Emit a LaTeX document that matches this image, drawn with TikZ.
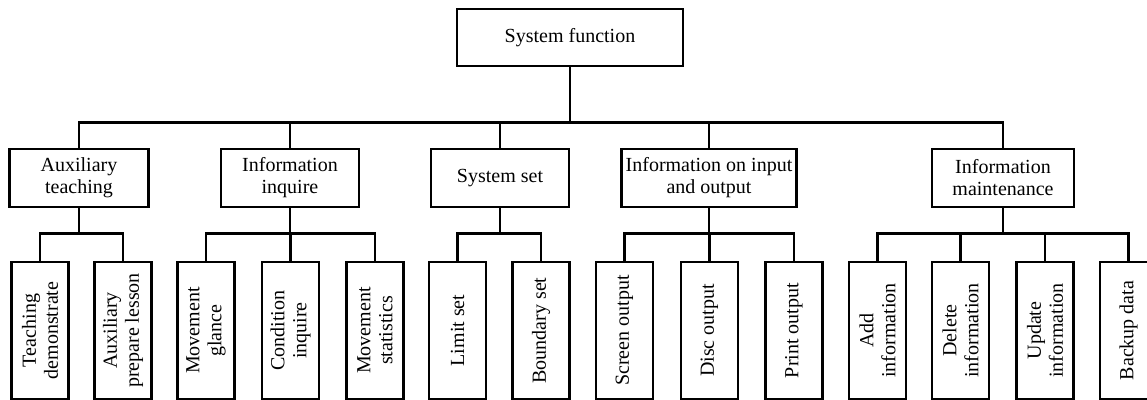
\documentclass[tikz,border=0pt]{standalone}
\usepackage{fontspec}
\setmainfont{Liberation Serif}

\begin{document}
\begin{tikzpicture}
  [x=0.5pt,y=-0.5pt,line width=1.3pt,
   every node/.style={draw,rectangle,inner sep=2pt,align=center,font=\fontsize{10}{11}\selectfont},
   topbox/.style={minimum width=113pt,minimum height=28.5pt},
   midbox/.style={minimum height=29pt},
   leafbox/.style={rotate=90,minimum width=68.5pt,minimum height=28.5pt}]
  \useasboundingbox (0,0) rectangle (1147,400);
  \node[topbox] (sys) at (570,37.5) {System function};
  \node[midbox,minimum width=69.5pt] (aux) at (79,178) {Auxiliary\\teaching};
  \node[midbox,minimum width=69pt] (inq) at (290,178) {Information\\inquire};
  \node[midbox,minimum width=69pt] (sset) at (500,178) {System set};
  \node[midbox,minimum width=84pt] (io) at (709,178) {Information on input\\and output};
  \node[midbox,minimum width=71pt] (mnt) at (1003,178) {Information\\maintenance};
  \node[leafbox] (teach) at (40,330.5) {Teaching\\demonstrate};
  \node[leafbox] (prep) at (123,330.5) {Auxiliary\\prepare lesson};
  \node[leafbox] (glance) at (206,330.5) {Movement\\glance};
  \node[leafbox] (cond) at (290.5,330.5) {Condition\\inquire};
  \node[leafbox] (stat) at (375,330.5) {Movement\\statistics};
  \node[leafbox] (limit) at (457.5,330.5) {Limit set};
  \node[leafbox] (bound) at (541,330.5) {Boundary set};
  \node[leafbox] (screen) at (624.5,330.5) {Screen output};
  \node[leafbox] (disc) at (709.5,330.5) {Disc output};
  \node[leafbox] (print) at (794,330.5) {Print output};
  \node[leafbox] (add) at (877.5,330.5) {Add\\information};
  \node[leafbox] (del) at (960.5,330.5) {Delete\\information};
  \node[leafbox] (upd) at (1045,330.5) {Update\\information};
  \node[leafbox] (bkp) at (1128.5,330.5) {Backup data};
    \foreach \to in {aux,inq,sset,io,mnt}
    \draw (sys.south) -- ++(0,55) -| (\to.north);
    \foreach \from/\to in {aux/teach,aux/prep,inq/glance,inq/cond,inq/stat,sset/limit,sset/bound,
      io/screen,io/disc,io/print,mnt/add,mnt/del,mnt/upd,mnt/bkp}
    \draw (\from.south) -- ++(0,25) -| (\to.east);
\end{tikzpicture}
\end{document}
